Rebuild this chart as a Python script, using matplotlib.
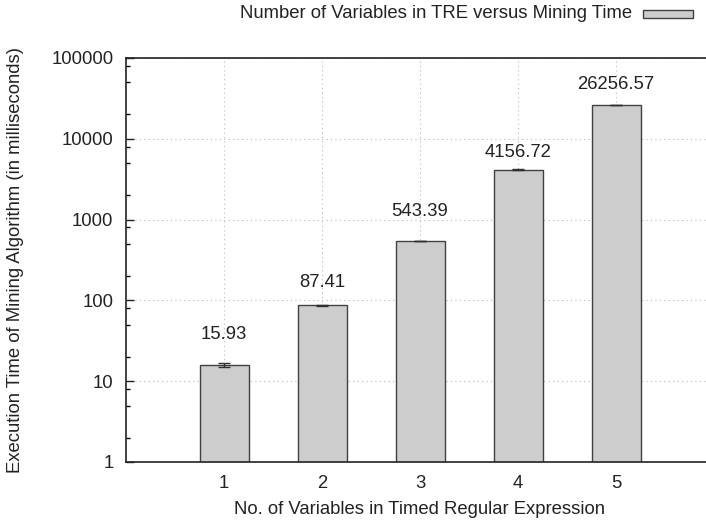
import matplotlib
matplotlib.use("Agg")
import matplotlib.pyplot as plt
from matplotlib.patches import Rectangle
from matplotlib.ticker import LogLocator, FixedLocator, NullFormatter, FixedFormatter

plt.rcParams['font.family'] = ['Liberation Sans', 'DejaVu Sans']

categories = [1, 2, 3, 4, 5]
times = [15.93, 87.41, 543.39, 4156.72, 26256.57]
errors = [1.0, 1.5, 5.0, 20.0, 60.0]
value_labels = ["15.93", "87.41", "543.39", "4156.72", "26256.57"]
y_ticks = [1, 10, 100, 1000, 10000, 100000]
y_ticklabels = ["1", "10", "100", "1000", "10000", "100000"]

label_offsets = [22, 16.5, 21.5, 12.5, 14.5]  # points above bar top (text centre)

FS = 13.3
TXT = '#222222'

fig = plt.figure(figsize=(7.06, 5.25), dpi=100)
ax = fig.add_axes([126/706, 1-462/525, (714-126)/706, (462-58)/525])

ax.set_yscale('log')
ax.set_ylim(1, 100000)
ax.set_xlim(0, 6)

ax.grid(True, which='major', linestyle=(0, (1, 3)), color='#b8b8b8', linewidth=0.8)
ax.set_axisbelow(True)

ax.bar(categories, times, width=0.5, color='#cdcdcd', edgecolor='#404040', linewidth=1.0, zorder=2)
ax.errorbar(categories, times, yerr=errors, fmt='none', ecolor='#303030', elinewidth=1.0, capsize=4, capthick=1.0, zorder=3)

for x, v, lab, off in zip(categories, times, value_labels, label_offsets):
    ax.annotate(lab, (x, v), xytext=(0, off), textcoords='offset points',
                ha='center', va='center', fontsize=FS, color=TXT)

ax.yaxis.set_major_locator(FixedLocator(y_ticks))
ax.yaxis.set_major_formatter(FixedFormatter(y_ticklabels))
ax.yaxis.set_minor_locator(LogLocator(base=10, subs=(2.0, 5.0, 8.0)))
ax.yaxis.set_minor_formatter(NullFormatter())
ax.set_xticks(categories)
ax.set_xticklabels([str(c) for c in categories])

ax.tick_params(axis='y', which='major', direction='in', length=6, width=1, labelsize=FS, pad=9, colors=TXT, right=False)
ax.tick_params(axis='y', which='minor', direction='in', length=3, width=1, right=False)
ax.tick_params(axis='x', which='major', direction='in', length=0, labelsize=FS, pad=9, colors=TXT, top=False)

for s in ['left', 'bottom', 'top']:
    ax.spines[s].set_color('#222222')
    ax.spines[s].set_linewidth(1.2)
ax.spines['right'].set_visible(False)

ax.set_xlabel("No. of Variables in Timed Regular Expression", fontsize=FS, color=TXT, labelpad=7)
fig.text(16/706, 1-260/525, "Execution Time of Mining Algorithm (in milliseconds)", rotation=90,
         ha='center', va='center', fontsize=FS, color=TXT)

# legend
fig.text(632/706, 1-14/525, "Number of Variables in TRE versus Mining Time", ha='right', va='center',
         fontsize=FS, color=TXT)
fig.patches.append(Rectangle((643/706, 1-18/525), 50/706, 8/525, transform=fig.transFigure,
                             facecolor='#cdcdcd', edgecolor='#404040', linewidth=1.0))

fig.savefig("out.png", dpi=100)
